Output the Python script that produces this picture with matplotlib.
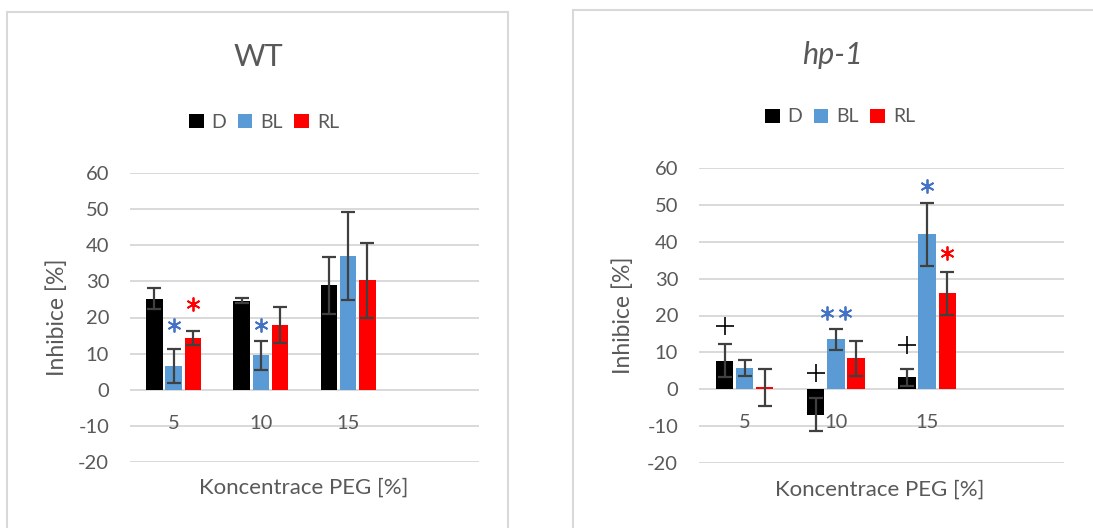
import numpy as np
import matplotlib
matplotlib.use('Agg')
from matplotlib import pyplot as plt
from matplotlib.patches import Patch, Rectangle

plt.rcParams['font.family'] = ['Lato', 'DejaVu Sans']
plt.rcParams['axes.unicode_minus'] = False

categories = ['5', '10', '15']
series = ['D', 'BL', 'RL']
colors = ['#000000', '#5b9bd5', '#ff0000']

# WT inhibition (mean, error)
wt_mean = {'D': [25.2, 24.6, 28.9], 'BL': [6.6, 9.5, 37.0], 'RL': [14.3, 18.0, 30.3]}
wt_err = {'D': [2.9, 0.7, 7.9], 'BL': [4.7, 4.0, 12.1], 'RL': [2.0, 5.0, 10.4]}

# hp-1 inhibition (mean, error)
hp_mean = {'D': [7.7, -6.9, 3.2], 'BL': [5.7, 13.5, 42.0], 'RL': [0.5, 8.4, 26.0]}
hp_err = {'D': [4.5, 4.4, 2.3], 'BL': [2.1, 2.9, 8.5], 'RL': [5.0, 4.8, 5.8]}

# significance marks: (series, category index, height, symbol, colour)
wt_marks = [('BL', 0, 17.8, '*', '#4472c4'), ('RL', 0, 23.8, '*', '#ff0000'),
            ('BL', 1, 17.8, '*', '#4472c4')]
hp_marks = [('D', 0, 17.1, '+', '#000000'), ('D', 1, 4.5, '+', '#000000'),
            ('D', 2, 12.1, '+', '#000000'), ('BL', 1, 20.6, '**', '#4472c4'),
            ('BL', 2, 55.1, '*', '#4472c4'), ('RL', 2, 37.0, '*', '#ff0000')]

text_gray = '#595959'
grid_gray = '#d9d9d9'
offsets = {'D': -0.22, 'BL': 0.0, 'RL': 0.22}
bar_w = 0.19

fig = plt.figure(figsize=(10.93, 5.28), dpi=100)

# panel frames
fig.add_artist(Rectangle((7 / 1093, -0.1), 501 / 1093, 1.1 - 12 / 528,
                         transform=fig.transFigure, fill=False,
                         edgecolor=grid_gray, lw=1.5))
fig.add_artist(Rectangle((573 / 1093, -0.1), 1.0, 1.1 - 10 / 528,
                         transform=fig.transFigure, fill=False,
                         edgecolor=grid_gray, lw=1.5))


def draw_panel(rect, means, errs, marks, title, italic, title_xy, legend_xy, ylabel_x, xlabel_xy):
    ax = fig.add_axes(rect)
    x = np.arange(len(categories))
    for name, c in zip(series, colors):
        ax.bar(x + offsets[name], means[name], bar_w, color=c, zorder=2)
        ax.errorbar(x + offsets[name], means[name], yerr=errs[name], fmt='none',
                    ecolor='#404040', elinewidth=1.6, capsize=5, capthick=1.6, zorder=3)
    for name, i, h, sym, c in marks:
        xm = i + offsets[name]
        if sym == '+':
            ax.plot(xm, h, marker='+', ms=13, mew=1.2, color=c, zorder=4)
        else:
            n = len(sym)
            for k in range(n):
                dx = (k - (n - 1) / 2) * 0.2
                ax.plot(xm + dx, h, marker=(6, 2, 0), ms=10, mew=1.3, color=c, zorder=4)
    ax.set_xlim(-0.5, 3.5)
    ax.set_ylim(-20, 60)
    ax.set_yticks(np.arange(-20, 61, 10))
    ax.set_xticks([])
    ax.yaxis.grid(True, color=grid_gray, lw=1.4)
    ax.set_axisbelow(True)
    for s in ax.spines.values():
        s.set_visible(False)
    ax.tick_params(axis='y', length=0, pad=15, labelsize=14.5, labelcolor=text_gray)
    for i, lab in enumerate(categories):
        ax.annotate(lab, (i, 0), xytext=(0, -24), textcoords='offset points',
                    ha='center', va='center', fontsize=14.5, color=text_gray)
    fig.text(ylabel_x, rect[1] + rect[3] * 0.5, 'Inhibice [%]', rotation=90,
             ha='center', va='center', fontsize=16.5, color=text_gray)
    fig.text(xlabel_xy[0], xlabel_xy[1], 'Koncentrace PEG [%]', ha='center', va='center',
             fontsize=16, color=text_gray)
    fig.text(title_xy[0], title_xy[1], title, ha='center', va='center', fontsize=22,
             color=text_gray, style='italic' if italic else 'normal')
    handles = [Patch(facecolor=c, edgecolor='none') for c in colors]
    fig.legend(handles, series, loc='center', bbox_to_anchor=legend_xy, ncol=3,
               frameon=False, fontsize=14, labelcolor=text_gray, handlelength=0.75,
               handleheight=0.75, handletextpad=0.4, columnspacing=0.6)
    return ax


draw_panel([130 / 1093, 1 - 462 / 528, 349 / 1093, 289 / 528], wt_mean, wt_err, wt_marks,
           'WT', False, (258 / 1093, 1 - 57 / 528), (264 / 1093, 1 - 122 / 528),
           57 / 1093, (304 / 1093, 1 - 488 / 528))
draw_panel([699 / 1093, 1 - 463 / 528, 365 / 1093, 295 / 528], hp_mean, hp_err, hp_marks,
           'hp-1', True, (832 / 1093, 1 - 55 / 528), (840 / 1093, 1 - 117 / 528),
           623 / 1093, (880 / 1093, 1 - 490 / 528))

fig.savefig('out.png', dpi=100)
